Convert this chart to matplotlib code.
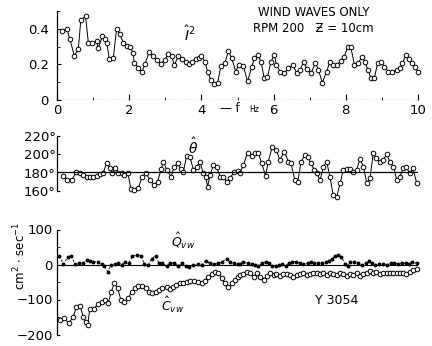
import numpy as np
import matplotlib
matplotlib.use("Agg")
from matplotlib import pyplot as plt

# spectral quantities vs frequency (Hz), wind waves only, RPM 200, z = 10 cm
f_i2 = [0.13, 0.27, 0.36, 0.48, 0.59, 0.66, 0.79, 0.87, 0.98, 1.10, 1.14, 1.26, 1.33, 1.38,
        1.45, 1.56, 1.65, 1.74, 1.84, 1.93, 2.02, 2.11, 2.14, 2.25, 2.35, 2.44, 2.55, 2.65,
        2.76, 2.88, 2.99, 3.08, 3.18, 3.25, 3.36, 3.45, 3.56, 3.65, 3.75, 3.84, 3.93, 4.00,
        4.10, 4.17, 4.26, 4.36, 4.45, 4.54, 4.65, 4.75, 4.84, 4.95, 5.04, 5.16, 5.28, 5.39,
        5.47, 5.56, 5.65, 5.74, 5.83, 5.93, 6.02, 6.08, 6.18, 6.30, 6.41, 6.54, 6.64, 6.73,
        6.84, 6.92, 7.03, 7.16, 7.24, 7.35, 7.47, 7.56, 7.65, 7.75, 7.87, 7.96, 8.05, 8.14,
        8.24, 8.35, 8.44, 8.53, 8.61, 8.70, 8.79, 8.88, 8.97, 9.07, 9.18, 9.29, 9.41, 9.50,
        9.57, 9.66, 9.75, 9.83, 9.92, 10.0]
i2 = [0.385, 0.40, 0.34, 0.248, 0.285, 0.45, 0.47, 0.32, 0.32, 0.33, 0.29, 0.36, 0.34, 0.32,
      0.23, 0.235, 0.40, 0.37, 0.32, 0.305, 0.30, 0.263, 0.21, 0.18, 0.155, 0.205, 0.267, 0.245,
      0.225, 0.205, 0.225, 0.26, 0.245, 0.197, 0.245, 0.23, 0.216, 0.203, 0.216, 0.23, 0.235, 0.245,
      0.216, 0.16, 0.113, 0.09, 0.098, 0.19, 0.21, 0.273, 0.235, 0.16, 0.197, 0.19, 0.104, 0.184,
      0.235, 0.253, 0.216, 0.122, 0.13, 0.216, 0.253, 0.197, 0.16, 0.15, 0.178, 0.197, 0.15, 0.17,
      0.216, 0.173, 0.15, 0.206, 0.17, 0.098, 0.16, 0.216, 0.197, 0.197, 0.22, 0.244, 0.296, 0.296,
      0.197, 0.206, 0.244, 0.216, 0.17, 0.122, 0.122, 0.206, 0.216, 0.188, 0.16, 0.16, 0.17, 0.178,
      0.206, 0.253, 0.23, 0.206, 0.188, 0.16]

f_th = [0.17, 0.29, 0.41, 0.54, 0.64, 0.73, 0.82, 0.91, 1.01, 1.10, 1.19, 1.28, 1.38, 1.47,
        1.53, 1.62, 1.70, 1.79, 1.86, 1.96, 2.05, 2.14, 2.25, 2.36, 2.46, 2.58, 2.70, 2.79,
        2.88, 2.95, 3.04, 3.16, 3.25, 3.34, 3.43, 3.50, 3.59, 3.68, 3.78, 3.87, 3.96, 4.05,
        4.12, 4.17, 4.24, 4.33, 4.42, 4.52, 4.61, 4.70, 4.79, 4.91, 5.00, 5.07, 5.16, 5.28,
        5.39, 5.48, 5.58, 5.67, 5.78, 5.85, 5.96, 6.08, 6.17, 6.30, 6.41, 6.48, 6.59, 6.67,
        6.76, 6.87, 6.94, 7.03, 7.13, 7.19, 7.29, 7.38, 7.47, 7.56, 7.65, 7.75, 7.84, 7.93,
        8.02, 8.12, 8.21, 8.30, 8.39, 8.49, 8.58, 8.67, 8.76, 8.85, 8.95, 9.04, 9.13, 9.22,
        9.32, 9.41, 9.50, 9.59, 9.68, 9.77, 9.86, 9.96]
theta = [176.2, 171.9, 171.9, 180.9, 179.8, 177.3, 175.5, 175.5, 175.5, 176.2, 178.4, 179.8,
         190.6, 184.5, 179.1, 184.5, 179.8, 179.1, 177.3, 179.8, 161.8, 161.0, 162.8, 175.5,
         179.1, 171.9, 166.5, 170.1, 183.4, 191.7, 182.7, 175.5, 186.3, 189.9, 183.4, 180.9,
         197.9, 197.2, 182.7, 186.3, 191.7, 179.1, 175.5, 164.7, 177.3, 188.1, 186.3, 175.5,
         175.5, 170.1, 173.7, 180.9, 182.0, 179.8, 188.1, 201.4, 197.9, 200.7, 200.7, 189.9,
         176.2, 191.7, 207.2, 204.3, 193.5, 202.5, 191.7, 189.9, 171.9, 170.1, 191.7, 198.9,
         197.2, 189.9, 182.7, 179.1, 171.9, 186.3, 191.7, 175.5, 155.6, 153.8, 168.3, 182.7,
         183.4, 183.4, 180.9, 182.7, 194.2, 186.3, 168.3, 173.7, 200.7, 195.3, 191.7, 193.5,
         200.0, 191.7, 186.3, 171.9, 175.5, 184.5, 185.6, 179.1, 184.5, 169.0]

f_q = [0.06, 0.18, 0.30, 0.39, 0.50, 0.61, 0.73, 0.82, 0.91, 1.01, 1.13, 1.24, 1.31, 1.40,
       1.50, 1.61, 1.70, 1.79, 1.88, 1.99, 2.09, 2.21, 2.33, 2.42, 2.53, 2.62, 2.73, 2.82,
       2.92, 3.04, 3.13, 3.25, 3.36, 3.45, 3.56, 3.66, 3.78, 3.90, 4.01, 4.12, 4.24, 4.36,
       4.47, 4.58, 4.70, 4.79, 4.91, 5.00, 5.07, 5.16, 5.28, 5.39, 5.48, 5.58, 5.67, 5.78,
       5.87, 5.96, 6.06, 6.15, 6.24, 6.33, 6.42, 6.52, 6.61, 6.73, 6.82, 6.94, 7.03, 7.13,
       7.24, 7.35, 7.44, 7.53, 7.61, 7.70, 7.79, 7.88, 7.98, 8.05, 8.12, 8.24, 8.35, 8.46,
       8.55, 8.64, 8.73, 8.82, 8.92, 9.04, 9.13, 9.25, 9.34, 9.45, 9.55, 9.66, 9.75, 9.84, 9.96]
q_vw = [24, 1, 22, 24, 1, 3, 5, 13, 11, 8, 8, 1, -4, -20, -1, 1, 5, -1, 8, 5, 24, 27, 24, 1,
        -1, 17, 24, 5, 3, -4, 3, 5, -4, 3, -4, -8, -1, 1, -1, 11, 3, 1, 3, 8, 17, 8, 3, 1, 1,
        8, 3, 1, -1, -4, 3, 8, 3, -4, -4, -1, 1, -4, 3, 8, 8, 3, 1, 3, 8, 3, 3, 5, 8, 11, 15,
        24, 27, 22, 1, -4, 8, 8, 3, -1, 3, 11, 3, -1, 1, 1, -1, 3, 5, 1, 3, 5, 1, 8, 3]

f_c = [0.08, 0.20, 0.33, 0.45, 0.54, 0.64, 0.73, 0.79, 0.85, 0.91, 1.03, 1.13, 1.24, 1.33,
       1.42, 1.50, 1.59, 1.68, 1.77, 1.86, 1.97, 2.07, 2.16, 2.25, 2.36, 2.46, 2.55, 2.64,
       2.73, 2.82, 2.92, 3.04, 3.13, 3.22, 3.31, 3.41, 3.50, 3.59, 3.68, 3.80, 3.90, 4.01,
       4.10, 4.19, 4.28, 4.38, 4.47, 4.56, 4.65, 4.75, 4.84, 4.93, 5.02, 5.07, 5.16, 5.25,
       5.36, 5.45, 5.54, 5.63, 5.73, 5.82, 5.91, 6.00, 6.08, 6.18, 6.27, 6.36, 6.45, 6.55,
       6.64, 6.73, 6.82, 6.92, 7.01, 7.10, 7.19, 7.29, 7.38, 7.47, 7.56, 7.65, 7.75, 7.84,
       7.93, 8.02, 8.12, 8.21, 8.30, 8.39, 8.49, 8.58, 8.67, 8.76, 8.85, 8.95, 9.04, 9.13,
       9.22, 9.32, 9.41, 9.50, 9.59, 9.68, 9.77, 9.86, 9.96]
c_vw = [-159, -154, -168, -149, -121, -119, -149, -163, -173, -126, -126, -113, -106, -101,
        -111, -78, -54, -68, -101, -106, -97, -78, -68, -61, -61, -68, -78, -82, -78, -73,
        -68, -64, -71, -65, -59, -54, -54, -49, -46, -46, -49, -54, -46, -35, -27, -21, -25,
        -39, -54, -64, -54, -44, -35, -30, -27, -21, -25, -35, -25, -37, -44, -33, -25, -30,
        -27, -33, -27, -27, -30, -35, -30, -27, -25, -30, -27, -25, -23, -27, -25, -30, -23,
        -27, -30, -25, -27, -33, -27, -30, -25, -33, -27, -25, -18, -23, -21, -27, -25, -23,
        -25, -23, -23, -25, -25, -27, -21, -16, -14]

W, H = 432, 346
fig = plt.figure(figsize=(W / 100, H / 100), dpi=100)
plt.rcParams['font.family'] = 'DejaVu Sans'


def box(x0, x1, ytop, ybot):
    return [x0 / W, 1 - ybot / H, (x1 - x0) / W, (ybot - ytop) / H]


def bare(ax):
    for s in ['top', 'right', 'bottom']:
        ax.spines[s].set_visible(False)
    ax.spines['left'].set_linewidth(0.9)
    ax.set_xlim(0, 10)
    ax.patch.set_alpha(0)


circ = dict(marker='o', ms=3.3, mfc='white', mec='black', mew=0.7,
            color='black', lw=0.7, clip_on=False)

# top: intensity spectrum
ax1 = fig.add_axes(box(57, 418, 11, 100))
bare(ax1)
ax1.set_ylim(0, 0.5)
ax1.spines['left'].set_bounds(0, 0.5)
ax1.plot(f_i2, i2, **circ)
ax1.axhline(0, color='black', lw=0.8, dashes=(10, 2, 2, 2))
ax1.set_xticks([0, 2, 4, 6, 8, 10])
ax1.set_xticklabels(['0', '2', '4', '6', '8', '10'])
ax1.set_xticks([1, 3, 5, 7, 9], minor=True)
ax1.set_yticks([0, 0.2, 0.4])
ax1.set_yticklabels(['0', '0.2', '0.4'])
ax1.set_yticks([0.1, 0.3, 0.5], minor=True)
ax1.tick_params(axis='both', which='both', direction='in', labelsize=9.5)
ax1.tick_params(axis='x', which='major', length=4, pad=3)
ax1.tick_params(axis='x', which='minor', length=2)
ax1.tick_params(axis='y', which='major', length=3, pad=6)
ax1.tick_params(axis='y', which='minor', length=2)
ax1.text(3.68, 0.366, r'$\hat{I}^{2}$', fontsize=10, ha='center', va='center')

# middle: direction
ax2 = fig.add_axes(box(57, 418, 135.5, 191))
bare(ax2)
ax2.set_ylim(160, 220)
ax2.spines['left'].set_bounds(160, 220)
ax2.plot(f_th, theta, **circ)
ax2.axhline(180, color='black', lw=0.9)
ax2.set_xticks([])
ax2.set_yticks([160, 180, 200, 220])
ax2.set_yticklabels(['160°', '180°', '200°', '220°'])
ax2.tick_params(axis='y', direction='in', length=2, pad=1, labelsize=9.5)
ax2.text(3.77, 207.6, r'$\hat{\theta}$', fontsize=10, ha='center', va='center')

# bottom: quad- and co-spectrum
ax3 = fig.add_axes(box(57, 418, 229.5, 334.5))
bare(ax3)
ax3.set_ylim(-200, 100)
ax3.spines['left'].set_bounds(-200, 100)
ax3.axhline(0, color='black', lw=0.8)
ax3.plot(f_q, q_vw, color='black', lw=0.6, ls=(0, (3, 2)), marker='o', ms=1.8,
         mfc='black', mec='black', clip_on=False)
ax3.plot(f_c, c_vw, **circ)
ax3.set_xticks([])
ax3.set_yticks([-200, -100, 0, 100])
ax3.set_yticklabels(['\u2212200', '\u2212100', '0', '100'])
ax3.set_yticks([-150, -50, 50], minor=True)
ax3.tick_params(axis='y', which='both', direction='in', length=2.5, pad=3, labelsize=9.5)
ax3.text(3.5, 68, r'$\hat{Q}_{vw}$', fontsize=9, ha='center', va='center')
ax3.text(3.2, -116, r'$\hat{C}_{vw}$', fontsize=9, ha='center', va='center')

fig.text(20 / W, 1 - 256 / H, 'cm$^2$ $\\cdot$ sec$^{-1}$', rotation=90,
         ha='center', va='center', fontsize=8.5)
fig.text(314 / W, 1 - 13 / H, 'WIND WAVES ONLY', ha='center', va='center', fontsize=8.5)
fig.text(313 / W, 1 - 28 / H, 'RPM 200   \u01b5 = 10cm', ha='center', va='center', fontsize=8.5)
fig.text(230 / W, 1 - 109 / H, '\u2014 f', ha='center', va='center', fontsize=8.5)
fig.text(254 / W, 1 - 110 / H, 'Hz', ha='center', va='center', fontsize=5.5)
fig.text(337 / W, 1 - 300 / H, 'Y 3054', ha='center', va='center', fontsize=9)

fig.savefig('out.png', dpi=100)
